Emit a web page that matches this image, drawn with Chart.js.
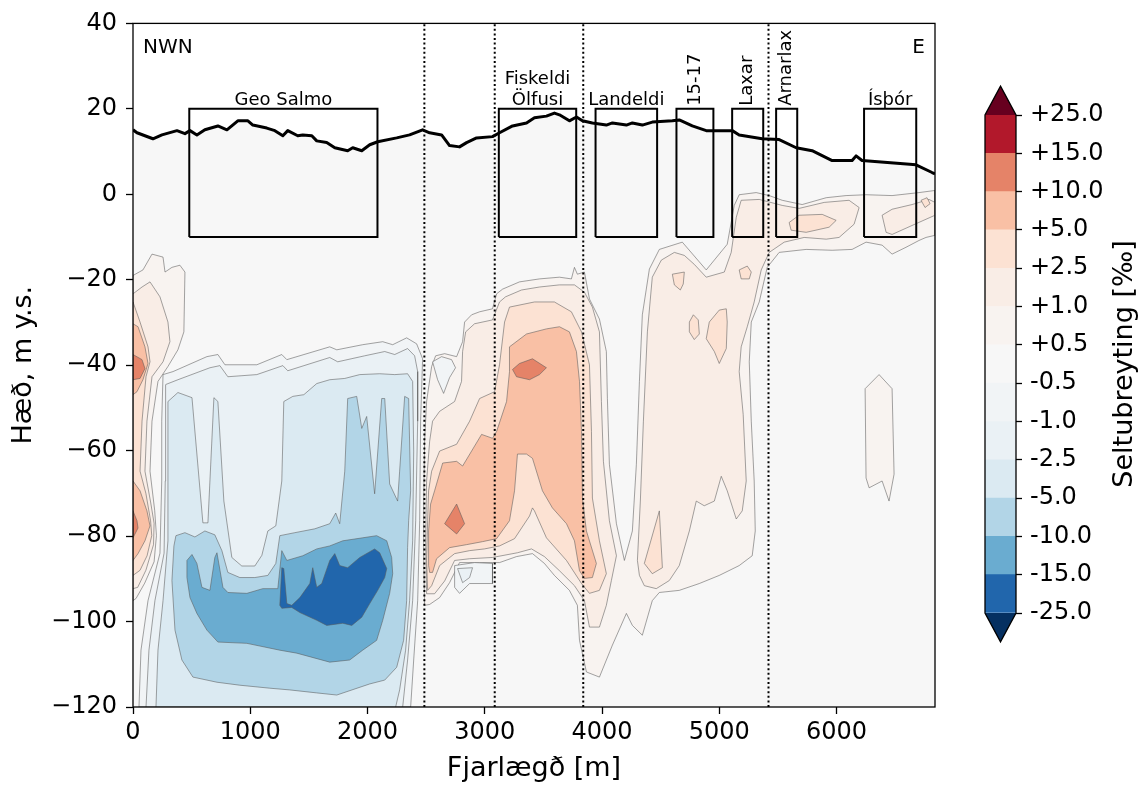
<!DOCTYPE html>
<html>
<head>
<meta charset="utf-8">
<script src="https://cdn.jsdelivr.net/npm/chart.js@4.4.1/dist/chart.umd.min.js"></script>
<style>
  html, body { margin: 0; padding: 0; background: #fff; }
  #wrap { position: relative; width: 1148px; height: 787px; }
  #main { position: absolute; left: 0; top: 0; width: 960px; height: 787px; }
  #bar { position: absolute; left: 960px; top: 0; width: 188px; height: 787px; }
</style>
</head>
<body>
<div id="wrap">
  <canvas id="main" width="960" height="787"></canvas>
  <canvas id="bar" width="188" height="787"></canvas>
</div>
<script>
// ásar
const xMax = 6840;
const yMin = -120, yMax = 40;
const xTicks = [0, 1000, 2000, 3000, 4000, 5000, 6000];
const yTicks = [-120, -100, -80, -60, -40, -20, 0, 20, 40];

// landyfirborð (m y.s.)
const terrainX = [0, 34, 170, 247, 375, 443, 486, 545, 613, 724, 801, 894, 980, 1022, 1141, 1210, 1278, 1320, 1405, 1448,
  1525, 1567, 1652, 1721, 1831, 1874, 1951, 2019, 2087, 2249, 2359, 2470, 2530, 2632, 2700, 2785, 2845, 2930, 3066, 3126,
  3237, 3356, 3424, 3526, 3594, 3637, 3722, 3782, 3833, 3918, 4037, 4089, 4208, 4259, 4344, 4429, 4600, 4659, 4770, 4889,
  5111, 5170, 5366, 5511, 5656, 5792, 5963, 6133, 6167, 6218, 6678, 6815, 6840];
const terrainY = [15.1, 14.4, 13.0, 13.9, 14.9, 14.2, 14.9, 13.9, 15.1, 16.0, 15.1, 17.2, 17.2, 16.2, 15.5, 14.9, 13.7, 14.9, 13.7, 13.9,
  13.7, 12.5, 12.1, 10.9, 10.2, 10.9, 10.2, 11.6, 12.3, 13.2, 13.9, 15.1, 14.4, 13.9, 11.4, 11.1, 12.1, 13.2, 13.5, 14.4,
  16.0, 16.7, 17.9, 18.3, 19.0, 18.6, 17.2, 18.1, 17.2, 16.7, 16.2, 16.7, 16.2, 16.7, 16.2, 16.9, 17.2, 17.4, 16.0, 14.9,
  14.9, 13.9, 13.0, 12.8, 10.9, 10.2, 7.9, 7.9, 9.0, 7.9, 6.9, 5.1, 4.8];

// stöðvar
const siteNames = [["Geo Salmo"], ["Fiskeldi", "Ölfusi"], ["Landeldi"], ["15-17"], ["Laxar"], ["Arnarlax"], ["Ísþór"]];
const siteStart = [480, 3120, 3945, 4635, 5110, 5485, 6235];
const siteEnd = [2085, 3780, 4470, 4950, 5375, 5665, 6680];
const siteRotated = [false, false, false, true, true, true, false];
const boxTop = 20, boxBottom = -10;
const dividers = [2485, 3085, 3840, 5420];

// litaskali
const levels = [-25, -15, -10, -5, -2.5, -1, -0.5, 0.5, 1, 2.5, 5, 10, 15, 25];
const bandColors = ["#2166ac", "#6aacd0", "#b2d5e7", "#dbeaf2", "#eaf1f5", "#f1f4f6", "#f7f7f7",
  "#f8f3f0", "#f9ede6", "#fce2d3", "#f9c0a5", "#e58368", "#b2182b"];
const underColor = "#053061", overColor = "#67001f";

// jafngildislínur (x m, hæð m)
const posLeft05 = [[0,-19],[85,-17.7],[162,-14.0],[256,-14.7],[273,-18.2],[332,-17.1],[400,-16.6],[443,-18.2],[434,-32.2],[383,-36.4],[298,-40.3],[213,-43.8],[162,-53.1],[145,-64.8],[185,-74],[200,-79.9],[180,-86],[100,-91],[26,-94.6],[0,-95.1]];
const posLeft1 = [[0,-23.3],[77,-21.7],[145,-20.5],[230,-24.0],[298,-29.9],[315,-34.5],[256,-39.2],[162,-42.7],[119,-53.1],[102,-64.8],[150,-72],[180,-77],[175,-82],[110,-88],[40,-92],[0,-92.3]];
const posLeft25 = [[0,-25.2],[60,-29.9],[128,-35.7],[145,-39.2],[111,-42.7],[77,-53.1],[60,-64.8],[110,-70],[150,-76.4],[160,-79.9],[120,-84.6],[60,-88],[0,-89.2]];
const posLeft5a = [[0,-30.3],[43,-31.0],[102,-35.7],[128,-39.6],[85,-43.4],[34,-46.2],[0,-46.9]];
const posLeft5b = [[0,-67.1],[60,-69.4],[119,-74.1],[145,-77.6],[102,-81.1],[43,-84.1],[0,-85.7]];
const posLeft10a = [[0,-37.5],[77,-38.7],[102,-40.8],[60,-43.1],[0,-43.4]];
const posLeft10b = [[0,-74.1],[34,-76.4],[43,-78.1],[17,-79.5],[0,-80.4]];

const posMid05 = [[2487,-96.2],[2479,-85.7],[2479,-71.8],[2487,-57.8],[2504,-48.5],[2547,-40.3],[2581,-37.8],[2658,-37.3],[2760,-38.0],[2811,-34.5],[2828,-29.9],[2888,-28.2],[2956,-27.5],[3066,-26.8],[3101,-23.3],[3152,-22.2],[3296,-20.5],[3467,-19.8],[3637,-19.4],[3739,-19.8],[3765,-17.1],[3790,-18.7],[3850,-18.2],[3893,-24.5],[3978,-29.2],[4037,-36.8],[4046,-47.8],[4063,-63.2],[4123,-77.1],[4191,-85.7],[4259,-78.8],[4293,-63.2],[4319,-43.8],[4344,-28.2],[4404,-17.5],[4489,-12.9],[4685,-11.2],[4889,-17.7],[5068,-11.7],[5128,-2.6],[5170,-0.1],[5315,0.4],[5426,-0.3],[5537,-1.4],[5707,-2.4],[5912,-0.8],[6082,-0.3],[6252,-0.1],[6474,-0.3],[6704,0.4],[6840,0.9],[6840,-9.6],[6763,-10.1],[6704,-10.8],[6593,-12.4],[6474,-14.0],[6389,-11.9],[6252,-11.2],[6133,-12.9],[5963,-13.1],[5741,-12.9],[5511,-13.6],[5409,-17.1],[5341,-25.2],[5273,-29.9],[5256,-39.2],[5273,-53.1],[5298,-67.1],[5307,-78.8],[5281,-84.6],[5170,-86.9],[5000,-89.2],[4830,-91.1],[4659,-92.7],[4489,-93.2],[4429,-95.1],[4344,-103.2],[4259,-100.9],[4208,-98.1],[4089,-105.5],[3978,-113.0],[3867,-111.8],[3808,-104.4],[3790,-96.2],[3722,-92.7],[3594,-89.2],[3509,-86.4],[3407,-84.1],[3271,-84.8],[3126,-86.2],[2956,-86.2],[2785,-86.2],[2700,-90.9],[2615,-94.4],[2530,-96.0]];
const posBlob05 = [[6244,-45.5],[6363,-42.2],[6474,-45.5],[6491,-65.5],[6448,-71.8],[6389,-67.1],[6278,-68.7],[6252,-66.4]];

const posMid1 = [[2504,-93.5],[2496,-81.1],[2504,-67.1],[2530,-57.8],[2555,-53.1],[2615,-50.8],[2743,-48.5],[2802,-43.8],[2811,-36.8],[2837,-32.2],[2913,-30.3],[3066,-29.4],[3126,-25.2],[3177,-24.0],[3313,-22.4],[3467,-21.7],[3637,-21.2],[3765,-21.2],[3850,-22.9],[3918,-26.4],[3978,-32.2],[3995,-48.5],[4012,-62.5],[4063,-76.4],[4123,-84.6],[4080,-90.4],[4037,-96.2],[3978,-101.3],[3893,-101.3],[3850,-95.1],[3765,-91.6],[3637,-88.1],[3509,-84.8],[3399,-83.0],[3279,-83.9],[3066,-85.0],[2871,-85.3],[2743,-85.7],[2658,-90.5],[2572,-93.5]];
const posRight1 = [[4302,-85.7],[4327,-71.8],[4353,-53.1],[4387,-32.2],[4429,-19.4],[4506,-15.4],[4617,-13.6],[4702,-14.3],[4787,-16.4],[4889,-19.4],[5043,-18.2],[5102,-13.6],[5145,-5.4],[5187,-1.4],[5341,-1.2],[5537,-2.6],[5681,-3.3],[5895,-1.9],[6107,-1.4],[6193,-3.1],[6150,-7.0],[6022,-10.1],[5912,-10.5],[5724,-10.1],[5554,-11.2],[5426,-13.6],[5358,-17.7],[5298,-25.2],[5239,-31.0],[5187,-35.7],[5170,-41.5],[5204,-51.5],[5230,-67.1],[5196,-74.1],[5145,-76.0],[5068,-69.4],[5017,-66.0],[4958,-71.8],[4872,-72.9],[4804,-71.8],[4745,-78.8],[4659,-86.9],[4574,-90.4],[4463,-92.3],[4361,-91.6],[4319,-89.2]];
const posIsthor1 = [[6389,-4.9],[6474,-3.5],[6644,-2.4],[6789,-1.2],[6840,-1.9],[6840,-4.9],[6644,-7.3],[6474,-9.4],[6423,-8.9]];

const posMid25 = [[2513,-92.7],[2504,-85.7],[2513,-76.4],[2521,-69.4],[2547,-64.8],[2615,-60.1],[2760,-58.5],[2871,-53.1],[2956,-47.8],[3084,-46.2],[3126,-39.9],[3169,-29.9],[3211,-26.4],[3424,-25.2],[3594,-25.2],[3739,-27.5],[3825,-32.2],[3893,-39.9],[3910,-55.5],[3918,-71.1],[3978,-81.1],[4037,-88.8],[3978,-92.7],[3893,-93.4],[3825,-91.1],[3697,-85.7],[3526,-80.4],[3424,-74.1],[3407,-73.4],[3382,-75.3],[3254,-80.6],[3126,-82.3],[2998,-83.0],[2871,-83.4],[2743,-84.1],[2615,-86.9],[2547,-91.6]];
const posBlob25a = [[5596,-6.6],[5681,-4.9],[5878,-4.7],[5997,-6.1],[5937,-7.7],[5741,-8.9],[5613,-8.4]];
const posBlob25b = [[6721,-1.4],[6772,-0.8],[6798,-2.2],[6755,-3.1]];
const posBlob25c = [[4600,-18.7],[4702,-18.2],[4693,-21.0],[4668,-22.4],[4617,-21.2]];
const posBlob25d = [[5170,-17.7],[5239,-16.8],[5273,-18.2],[5256,-19.8],[5187,-19.8]];
const posBlob25e = [[4745,-29.9],[4779,-28.2],[4821,-29.4],[4830,-32.7],[4787,-34.0],[4745,-32.2]];
const posBlob25f = [[4889,-33.8],[4915,-29.9],[5000,-27.1],[5060,-26.8],[5068,-29.9],[5060,-36.1],[5000,-39.6],[4958,-36.8]];
const posBlob25g = [[4489,-74.1],[4515,-87.4],[4429,-88.8],[4361,-86.4]];

const posMid5 = [[2521,-86.9],[2521,-78.8],[2538,-72.5],[2572,-69.4],[2641,-62.9],[2760,-62.5],[2811,-63.6],[2973,-56.2],[3066,-57.1],[3101,-55.5],[3186,-48.5],[3211,-41.5],[3211,-35.7],[3356,-32.7],[3526,-31.5],[3637,-31.0],[3722,-32.2],[3782,-36.8],[3808,-43.8],[3825,-55.5],[3833,-71.1],[3867,-78.8],[3952,-86.4],[3918,-89.7],[3850,-89.9],[3808,-88.1],[3765,-81.1],[3697,-77.1],[3577,-73.4],[3492,-69.4],[3407,-61.8],[3356,-60.8],[3279,-60.8],[3254,-69.4],[3211,-76.4],[3101,-80.6],[2981,-81.3],[2845,-82.0],[2700,-82.7],[2589,-85.3],[2555,-88.5],[2530,-88.5]];
const posMid10a = [[3237,-41.0],[3296,-39.6],[3407,-38.5],[3526,-40.6],[3467,-42.2],[3382,-43.4],[3271,-42.7]];
const posMid10b = [[2760,-72.5],[2828,-77.1],[2760,-79.5],[2658,-77.1]];

const negLeft05 = [[256,-42.2],[341,-41.5],[630,-38.0],[724,-37.5],[784,-39.9],[1056,-39.9],[1269,-37.5],[1312,-38.7],[1678,-35.7],[1738,-36.4],[1959,-35.2],[2130,-34.5],[2215,-35.2],[2334,-33.6],[2419,-35.0],[2470,-38.5],[2453,-53.1],[2445,-76.4],[2428,-95.1],[2394,-109.0],[2368,-120],[51,-120],[68,-106.7],[128,-95.1],[230,-84],[245,-67.1],[245,-53.1]];
const negLeft1 = [[281,-44.5],[383,-43.4],[656,-40.6],[741,-40.1],[809,-42.7],[1056,-42.2],[1278,-40.1],[1320,-41.3],[1678,-38.2],[1746,-39.2],[1976,-37.8],[2147,-36.8],[2232,-37.5],[2342,-36.1],[2402,-37.8],[2428,-41.5],[2428,-53.1],[2411,-76.4],[2385,-95.1],[2342,-109.0],[2300,-120],[111,-120],[136,-106.7],[187,-95.1],[265,-84],[275,-67.1],[275,-53.1]];
const negLeft25 = [[298,-48.5],[383,-46.4],[503,-47.6],[596,-76.9],[639,-76.9],[690,-47.6],[724,-48.5],[775,-71.8],[843,-85.0],[928,-87.0],[1039,-87.0],[1099,-84.5],[1150,-78.8],[1218,-77.6],[1269,-67.1],[1286,-48.5],[1363,-47.3],[1457,-46.9],[1567,-44.3],[1678,-43.4],[1806,-43.1],[1934,-42.2],[2104,-42.0],[2232,-42.2],[2342,-42.0],[2385,-43.8],[2394,-60.1],[2385,-81.1],[2359,-95.1],[2325,-106.7],[2274,-116.0],[2240,-120],[196,-120],[213,-106.7],[256,-95.1],[298,-81.1],[298,-64.8]];
const negLeft5 = [[366,-79.9],[443,-79.2],[528,-80.2],[613,-78.8],[698,-79.7],[758,-83.4],[809,-88.5],[911,-89.7],[1039,-89.7],[1150,-89.2],[1218,-86.4],[1252,-79.9],[1380,-79.2],[1550,-78.3],[1678,-77.1],[1729,-74.6],[1763,-77.1],[1806,-64.8],[1831,-47.8],[1908,-47.3],[1951,-54.8],[1993,-52.0],[2061,-70.1],[2121,-47.8],[2147,-47.8],[2189,-67.8],[2257,-71.8],[2274,-64.8],[2317,-47.3],[2351,-47.8],[2368,-69.4],[2351,-76.4],[2342,-82.7],[2334,-95.1],[2308,-104.4],[2249,-110.7],[2147,-113.7],[2019,-114.6],[1738,-117.2],[1567,-116.7],[1337,-116.0],[1167,-115.6],[911,-114.9],[716,-114.2],[511,-113.0],[417,-109.0],[358,-102.0],[332,-90.4],[349,-82.3]];
const negLeft10 = [[460,-85.7],[503,-84.3],[545,-86.4],[588,-92.0],[656,-92.7],[698,-85.0],[716,-83.9],[767,-92.0],[809,-93.2],[971,-93.4],[1107,-92.3],[1235,-92.3],[1269,-83.4],[1312,-85.7],[1448,-84.6],[1567,-83.0],[1678,-82.3],[1789,-81.1],[1959,-80.4],[2078,-79.9],[2164,-81.1],[2206,-85.0],[2215,-88.8],[2189,-93.4],[2130,-99.7],[2078,-104.4],[1959,-106.7],[1848,-109.0],[1678,-109.5],[1397,-107.4],[1252,-106.7],[971,-105.1],[724,-104.8],[630,-102.0],[545,-98.1],[486,-94.4],[460,-89.7]];
const negLeft15 = [[1269,-87.4],[1286,-87.6],[1312,-95.8],[1354,-96.2],[1423,-94.4],[1508,-91.1],[1533,-87.4],[1567,-92.0],[1610,-91.1],[1678,-85.7],[1721,-84.1],[1763,-86.9],[1831,-87.4],[1934,-85.0],[2061,-83.0],[2104,-83.9],[2164,-87.6],[2147,-89.7],[2087,-92.7],[2019,-95.8],[1951,-99.0],[1866,-100.9],[1789,-100.4],[1652,-100.9],[1567,-99.7],[1423,-97.9],[1354,-96.7],[1269,-96.9],[1252,-96.2]];
const negLobeA05 = [[2555,-39.2],[2632,-38.0],[2717,-38.7],[2751,-40.6],[2700,-42.9],[2649,-46.6],[2598,-43.4]];
const negLobeB05 = [[2743,-86.9],[2913,-86.2],[3066,-86.4],[3066,-91.1],[2871,-91.1],[2785,-93.4],[2743,-92.0]];
const negLobeB1 = [[2768,-87.6],[2896,-87.4],[2871,-89.7],[2811,-90.9]];

// teikniröð: ystu svæði fyrst
const contourList = [
  [0.5, posLeft05], [0.5, posMid05], [0.5, posBlob05],
  [1, posLeft1], [1, posMid1], [1, posRight1], [1, posIsthor1],
  [2.5, posLeft25], [2.5, posMid25], [2.5, posBlob25a], [2.5, posBlob25b], [2.5, posBlob25c],
  [2.5, posBlob25d], [2.5, posBlob25e], [2.5, posBlob25f], [2.5, posBlob25g],
  [5, posLeft5a], [5, posLeft5b], [5, posMid5],
  [10, posLeft10a], [10, posLeft10b], [10, posMid10a], [10, posMid10b],
  [-0.5, negLeft05], [-0.5, negLobeA05], [-0.5, negLobeB05],
  [-1, negLeft1], [-1, negLobeB1],
  [-2.5, negLeft25], [-5, negLeft5], [-10, negLeft10], [-15, negLeft15]
];

Chart.defaults.font.family = "DejaVu Sans";
Chart.defaults.color = "#000";

function levelColor(level) {
  const i = levels.indexOf(level);
  return level > 0 ? bandColors[i] : bandColors[i - 1];
}
const toPts = (xs, ys) => xs.map((x, i) => ({ x: x, y: ys[i] }));
const polyPts = poly => poly.concat([poly[0]]).map(p => ({ x: p[0], y: p[1] }));
const minus = v => String(v).replace("-", "\u2212");

const datasets = [];
// jörð undir yfirborði
datasets.push({ data: toPts(terrainX, terrainY), fill: "start", backgroundColor: "#f7f7f7", borderWidth: 0 });
contourList.forEach(([level, poly]) => {
  datasets.push({
    data: polyPts(poly), fill: "shape", backgroundColor: levelColor(level),
    borderColor: "rgba(90,90,90,0.55)", borderWidth: 1, borderJoinStyle: "round"
  });
});
dividers.forEach(x => {
  datasets.push({ data: [{ x: x, y: yMin }, { x: x, y: yMax }], fill: false, borderColor: "#000", borderWidth: 2, borderDash: [2, 2.6] });
});
siteStart.forEach((x0, i) => {
  const x1 = siteEnd[i];
  datasets.push({
    data: [{ x: x0, y: boxBottom }, { x: x0, y: boxTop }, { x: x1, y: boxTop }, { x: x1, y: boxBottom }, { x: x0, y: boxBottom }],
    fill: false, borderColor: "#000", borderWidth: 2, borderJoinStyle: "miter"
  });
});
datasets.push({ data: toPts(terrainX, terrainY), fill: false, borderColor: "#000", borderWidth: 3, borderJoinStyle: "round" });
datasets.forEach((d, i) => {
  d.order = datasets.length - i;
  d.pointRadius = 0;
  d.pointHoverRadius = 0;
  d.tension = 0;
});

const labelsPlugin = {
  id: "labels",
  afterDatasetsDraw(chart) {
    const ctx = chart.ctx;
    const sx = chart.scales.x, sy = chart.scales.y;
    const area = chart.chartArea;
    const yTop = sy.getPixelForValue(boxTop);
    ctx.save();
    ctx.fillStyle = "#000";
    ctx.font = "18px 'DejaVu Sans'";
    siteNames.forEach((lines, i) => {
      const xc = sx.getPixelForValue((siteStart[i] + siteEnd[i]) / 2);
      if (siteRotated[i]) {
        ctx.save();
        ctx.translate(xc, yTop - 3);
        ctx.rotate(-Math.PI / 2);
        ctx.textAlign = "left";
        ctx.textBaseline = "middle";
        ctx.fillText(lines[0], 0, 0);
        ctx.restore();
      } else {
        ctx.textAlign = "center";
        ctx.textBaseline = "alphabetic";
        lines.forEach((t, k) => ctx.fillText(t, xc, yTop - 4 - (lines.length - 1 - k) * 21));
      }
    });
    ctx.font = "20px 'DejaVu Sans'";
    ctx.textBaseline = "alphabetic";
    ctx.textAlign = "left";
    ctx.fillText("NWN", area.left + 10, area.top + 30);
    ctx.textAlign = "right";
    ctx.fillText("E", area.right - 10, area.top + 30);
    ctx.restore();
  },
  afterDraw(chart) {
    const { ctx, chartArea: a } = chart;
    ctx.save();
    ctx.strokeStyle = "#000";
    ctx.lineWidth = 1.3;
    ctx.strokeRect(a.left, a.top, a.right - a.left, a.bottom - a.top);
    ctx.restore();
  }
};

new Chart(document.getElementById("main"), {
  type: "line",
  data: { datasets: datasets },
  options: {
    responsive: false,
    animation: false,
    events: [],
    layout: { padding: { left: 0, right: 25, top: 20, bottom: 0 } },
    plugins: { legend: { display: false }, tooltip: { enabled: false } },
    scales: {
      x: {
        type: "linear", min: 0, max: xMax,
        afterBuildTicks: s => { s.ticks = xTicks.map(v => ({ value: v })); },
        afterFit: s => { s.height = 80; },
        grid: { drawOnChartArea: false, drawTicks: true, tickLength: 7, tickColor: "#000", tickWidth: 1.3 },
        border: { display: false },
        ticks: { color: "#000", font: { size: 24 }, padding: 4, maxRotation: 0, autoSkip: false, callback: v => minus(v) },
        title: { display: true, text: "Fjarlægð [m]", color: "#000", font: { size: 27 }, padding: { top: 0, bottom: 2 } }
      },
      y: {
        type: "linear", min: yMin, max: yMax,
        afterBuildTicks: s => { s.ticks = yTicks.map(v => ({ value: v })); },
        afterFit: s => { s.width = 133; },
        grid: { drawOnChartArea: false, drawTicks: true, tickLength: 7, tickColor: "#000", tickWidth: 1.3 },
        border: { display: false },
        ticks: { color: "#000", font: { size: 24 }, padding: 9, autoSkip: false, callback: v => minus(v) },
        title: { display: true, text: "Hæð, m y.s.", color: "#000", font: { size: 27 }, padding: { top: 8, bottom: 0 } }
      }
    }
  },
  plugins: [labelsPlugin]
});

// litastika
const cbLabel = v => (v > 0 ? "+" : "") + v.toFixed(1);
const colorbarPlugin = {
  id: "colorbar",
  afterDraw(chart) {
    const { ctx, chartArea: a } = chart;
    const ext = (a.bottom - a.top) * 0.058;
    const cx = (a.left + a.right) / 2;
    ctx.save();
    ctx.fillStyle = overColor;
    ctx.beginPath();
    ctx.moveTo(a.left, a.top); ctx.lineTo(cx, a.top - ext); ctx.lineTo(a.right, a.top);
    ctx.closePath(); ctx.fill();
    ctx.fillStyle = underColor;
    ctx.beginPath();
    ctx.moveTo(a.left, a.bottom); ctx.lineTo(cx, a.bottom + ext); ctx.lineTo(a.right, a.bottom);
    ctx.closePath(); ctx.fill();
    ctx.strokeStyle = "#000";
    ctx.lineWidth = 1.3;
    ctx.beginPath();
    ctx.moveTo(cx, a.top - ext); ctx.lineTo(a.right, a.top); ctx.lineTo(a.right, a.bottom);
    ctx.lineTo(cx, a.bottom + ext); ctx.lineTo(a.left, a.bottom); ctx.lineTo(a.left, a.top);
    ctx.closePath(); ctx.stroke();
    ctx.translate(165, (a.top + a.bottom) / 2);
    ctx.rotate(-Math.PI / 2);
    ctx.fillStyle = "#000";
    ctx.font = "27px 'DejaVu Sans'";
    ctx.textAlign = "center";
    ctx.textBaseline = "middle";
    ctx.fillText("Seltubreyting [‰]", 0, 0);
    ctx.restore();
  }
};

new Chart(document.getElementById("bar"), {
  type: "bar",
  data: {
    labels: [""],
    datasets: bandColors.map(c => ({ data: [1], backgroundColor: c, borderWidth: 0, barPercentage: 1, categoryPercentage: 1 }))
  },
  options: {
    responsive: false,
    animation: false,
    events: [],
    layout: { padding: { left: 25, right: 0, top: 115, bottom: 174 } },
    plugins: { legend: { display: false }, tooltip: { enabled: false } },
    scales: {
      x: { display: false, stacked: true },
      y: {
        stacked: true, position: "right", min: 0, max: levels.length - 1,
        afterBuildTicks: s => { s.ticks = levels.map((v, i) => ({ value: i })); },
        afterFit: s => { s.width = 132; },
        grid: { drawOnChartArea: false, drawTicks: true, tickLength: 6, tickColor: "#000", tickWidth: 1.3 },
        border: { display: false },
        ticks: { color: "#000", font: { size: 24 }, padding: 8, autoSkip: false, callback: v => cbLabel(levels[v]) }
      }
    }
  },
  plugins: [colorbarPlugin]
});
</script>
</body>
</html>
